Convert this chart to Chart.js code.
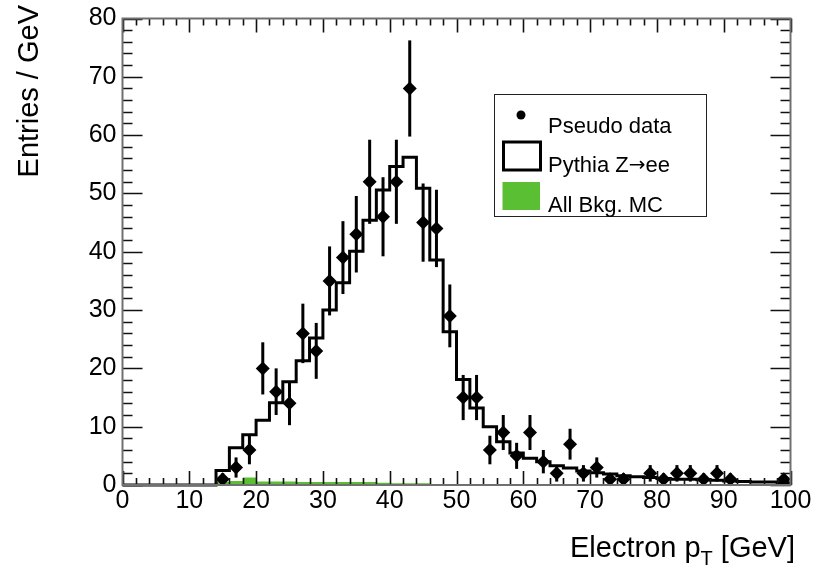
<!DOCTYPE html>
<html>
<head>
<meta charset="utf-8">
<script src="https://cdn.jsdelivr.net/npm/chart.js@4.4.1/dist/chart.umd.min.js"></script>
<style>
  html, body { margin: 0; padding: 0; background: #fff; }
  #c { display: block; }
</style>
</head>
<body>
<canvas id="c" width="818" height="570"></canvas>
<script>
// Lower edges of the 2 GeV bins (last bin closes at 100 GeV)
const binLow = [0, 2, 4, 6, 8, 10, 12, 14, 16, 18, 20, 22, 24, 26, 28, 30, 32, 34, 36, 38,
  40, 42, 44, 46, 48, 50, 52, 54, 56, 58, 60, 62, 64, 66, 68, 70, 72, 74, 76, 78,
  80, 82, 84, 86, 88, 90, 92, 94, 96, 98];
const binHigh = 100;

// Pythia Z->ee simulation, entries per GeV
const signalMC = [0, 0, 0, 0, 0, 0, 0, 2.5, 6.4, 8.6, 11.1, 14.1, 17.7, 21.3, 25.2, 30.0,
  34.7, 40.1, 45.4, 50.6, 54.6, 56.2, 50.9, 38.6, 26.3, 18.1, 13.2, 10.0, 7.4, 5.5,
  4.6, 4.0, 3.3, 2.9, 2.4, 2.1, 1.9, 1.6, 1.4, 1.3, 1.1, 1.0, 1.0, 0.9, 0.8, 0.7,
  0.6, 0.5, 0.5, 0.4];

// Summed background simulation, entries per GeV
const backgroundMC = [0, 0, 0, 0, 0, 0, 0, 0.5, 0.7, 1.3, 0.6, 0.6, 0.6, 0.5, 0.5, 0.5,
  0.5, 0.5, 0.5, 0.4, 0.3, 0.3, 0.3, 0, 0, 0, 0, 0, 0, 0, 0, 0, 0, 0, 0, 0, 0, 0, 0, 0,
  0, 0, 0, 0, 0, 0, 0, 0, 0, 0];

// Pseudo data: bin centres and entries per GeV
const dataCentres = [15, 17, 19, 21, 23, 25, 27, 29, 31, 33, 35, 37, 39, 41, 43, 45, 47,
  49, 51, 53, 55, 57, 59, 61, 63, 65, 67, 69, 71, 73, 75, 77, 79, 81, 83, 85, 87, 89, 91,
  93, 95, 97, 99];
const dataValues = [1, 3, 6, 20, 16, 14, 26, 23, 35, 39, 43, 52, 46, 52, 68, 45, 44, 29,
  15, 15, 6, 9, 5, 9, 4, 2, 7, 2, 3, 1, 1, 0, 2, 1, 2, 2, 1, 2, 1, 0, 0, 0, 1];

// Axis tick labels
const xTickValues = [0, 10, 20, 30, 40, 50, 60, 70, 80, 90, 100];
const yTickValues = [0, 10, 20, 30, 40, 50, 60, 70, 80];

const FONT = '"Liberation Sans", Arial, Helvetica, sans-serif';
const GREEN = '#5bbf33';

// Histogram outline: each bin's value holds from its lower edge to the next edge
function stepPoints(values) {
  const pts = binLow.map((lo, i) => ({ x: lo, y: values[i] }));
  pts.push({ x: binHigh, y: values[values.length - 1] });
  return pts;
}

const dataPoints = dataCentres
  .map((c, i) => ({ x: c, y: dataValues[i] }))
  .filter(p => p.y > 0);

// Poisson error bars under the data markers
const errorBars = {
  id: 'errorBars',
  beforeDatasetDraw(chart, args) {
    if (args.index !== 0) return;
    const { ctx, scales: { x, y } } = chart;
    ctx.save();
    ctx.strokeStyle = '#000';
    ctx.lineWidth = 3;
    dataPoints.forEach(p => {
      const err = Math.sqrt(p.y);
      const px = x.getPixelForValue(p.x);
      ctx.beginPath();
      ctx.moveTo(px, y.getPixelForValue(Math.max(p.y - err, 0)));
      ctx.lineTo(px, y.getPixelForValue(p.y + err));
      ctx.stroke();
    });
    ctx.restore();
  }
};

// Frame with inward ticks on all four sides
const frameTicks = {
  id: 'frameTicks',
  afterDatasetsDraw(chart) {
    const { ctx, chartArea: a, scales: { x, y } } = chart;
    ctx.save();
    ctx.strokeStyle = '#111';
    ctx.lineWidth = 1.6;
    ctx.beginPath();
    for (let v = 0; v <= 100; v += 2) {
      const px = Math.round(x.getPixelForValue(v)) + 0.5;
      const len = v % 10 === 0 ? 14 : 7;
      ctx.moveTo(px, a.bottom); ctx.lineTo(px, a.bottom - len);
      ctx.moveTo(px, a.top); ctx.lineTo(px, a.top + len);
    }
    for (let v = 0; v <= 80; v += 2) {
      const py = Math.round(y.getPixelForValue(v)) + 0.5;
      const len = v % 10 === 0 ? 20 : 10;
      ctx.moveTo(a.left, py); ctx.lineTo(a.left + len, py);
      ctx.moveTo(a.right, py); ctx.lineTo(a.right - len, py);
    }
    ctx.stroke();
    ctx.strokeStyle = '#707070';
    ctx.lineWidth = 2;
    ctx.strokeRect(a.left, a.top, a.right - a.left, a.bottom - a.top);
    ctx.restore();
  }
};

// Legend box and axis titles
const annotations = {
  id: 'annotations',
  afterDraw(chart) {
    const { ctx } = chart;
    ctx.save();
    // legend frame
    ctx.fillStyle = '#fff';
    ctx.fillRect(494.5, 94.5, 212, 122);
    ctx.strokeStyle = '#222';
    ctx.lineWidth = 1;
    ctx.strokeRect(494.5, 94.5, 212, 122);
    // data marker
    ctx.fillStyle = '#000';
    ctx.beginPath();
    ctx.arc(521, 115, 4.5, 0, Math.PI * 2);
    ctx.fill();
    // signal box
    ctx.lineWidth = 3;
    ctx.strokeStyle = '#000';
    ctx.strokeRect(503.5, 142, 37, 28);
    // background box
    ctx.fillStyle = GREEN;
    ctx.fillRect(502.5, 182, 37.5, 28);
    // legend text
    const legFont = '22px ' + FONT;
    const arrowFont = '20px "DejaVu Sans", ' + FONT;
    ctx.fillStyle = '#000';
    ctx.font = legFont;
    ctx.textBaseline = 'alphabetic';
    ctx.textAlign = 'left';
    ctx.fillText('Pseudo data', 548, 133);
    ctx.fillText('All Bkg. MC', 548, 212);
    let lx = 548;
    ctx.fillText('Pythia Z', lx, 172);
    lx += ctx.measureText('Pythia Z').width;
    ctx.font = arrowFont;
    ctx.fillText('\u2192', lx, 171);
    lx += ctx.measureText('\u2192').width;
    ctx.font = legFont;
    ctx.fillText('ee', lx, 172);

    // y axis title
    ctx.save();
    ctx.translate(38, 5);
    ctx.rotate(-Math.PI / 2);
    ctx.font = '29px ' + FONT;
    ctx.textAlign = 'right';
    ctx.fillText('Entries / GeV', 0, 0);
    ctx.restore();

    // x axis title with subscript
    const big = '29px ' + FONT, small = '20px ' + FONT;
    const partA = 'Electron p', partB = 'T', partC = ' [GeV]';
    ctx.font = big;
    const wA = ctx.measureText(partA).width, wC = ctx.measureText(partC).width;
    ctx.font = small;
    const wB = ctx.measureText(partB).width;
    let xs = 795 - (wA + wB + wC);
    const base = 557;
    ctx.textAlign = 'left';
    ctx.font = big; ctx.fillText(partA, xs, base); xs += wA;
    ctx.font = small; ctx.fillText(partB, xs, base + 8); xs += wB;
    ctx.font = big; ctx.fillText(partC, xs, base);
    ctx.restore();
  }
};

new Chart(document.getElementById('c'), {
  type: 'scatter',
  data: {
    datasets: [
      {
        label: 'Pseudo data',
        data: dataPoints,
        pointStyle: 'rectRot',
        pointRadius: 7,
        pointBackgroundColor: '#000',
        pointBorderColor: '#000',
        pointBorderWidth: 0,
        showLine: false,
        clip: false
      },
      {
        label: 'Pythia Z\u2192ee',
        type: 'line',
        data: stepPoints(signalMC),
        stepped: 'before',
        borderColor: '#000',
        borderWidth: 3,
        pointRadius: 0,
        fill: false,
        clip: 4
      },
      {
        label: 'All Bkg. MC',
        type: 'line',
        data: stepPoints(backgroundMC),
        stepped: 'before',
        borderWidth: 0,
        borderColor: GREEN,
        backgroundColor: GREEN,
        pointRadius: 0,
        fill: 'origin'
      }
    ]
  },
  options: {
    responsive: false,
    animation: false,
    devicePixelRatio: 1,
    layout: { padding: { top: 18.5, right: 27.5, left: 0, bottom: 0 } },
    plugins: { legend: { display: false }, tooltip: { enabled: false } },
    scales: {
      x: {
        type: 'linear', min: 0, max: 100,
        afterBuildTicks: s => { s.ticks = xTickValues.map(v => ({ value: v })); },
        ticks: { color: '#000', font: { family: FONT, size: 25 }, padding: 1, maxRotation: 0, autoSkip: false },
        grid: { display: false, drawTicks: false },
        border: { display: false },
        afterFit: s => { s.height = 85; s.paddingLeft = 0; s.paddingRight = 0; }
      },
      y: {
        type: 'linear', min: 0, max: 80,
        afterBuildTicks: s => { s.ticks = yTickValues.map(v => ({ value: v })); },
        ticks: { color: '#000', font: { family: FONT, size: 25 }, padding: 6, autoSkip: false },
        grid: { display: false, drawTicks: false },
        border: { display: false },
        afterFit: s => { s.width = 122.5; s.paddingTop = 0; s.paddingBottom = 0; }
      }
    }
  },
  plugins: [errorBars, frameTicks, annotations]
});
</script>
</body>
</html>
